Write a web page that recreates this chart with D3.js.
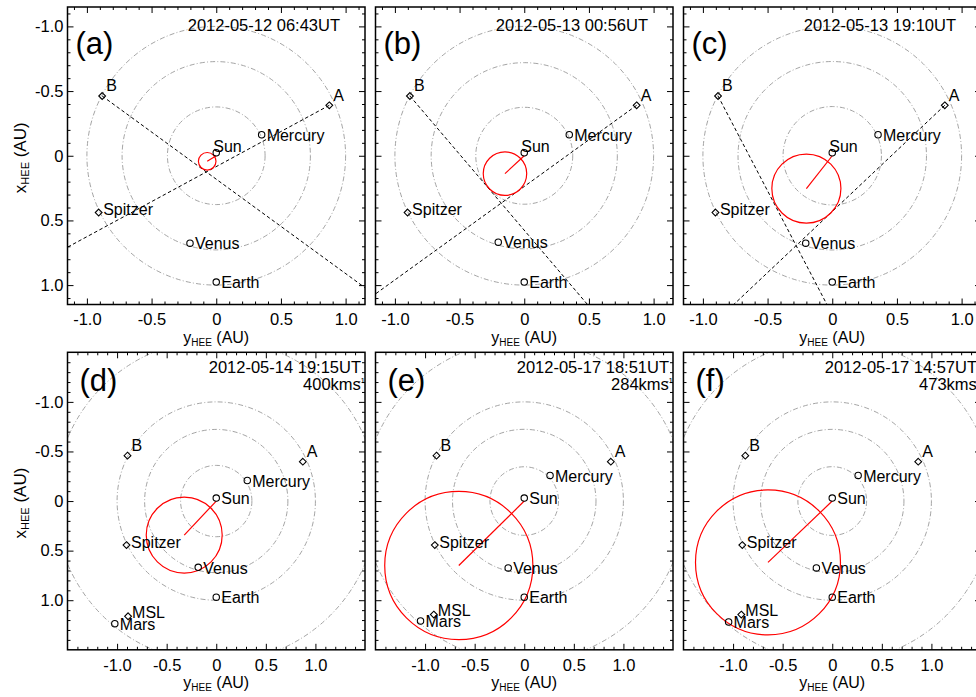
<!DOCTYPE html>
<html><head><meta charset="utf-8">
<script src="https://cdn.jsdelivr.net/npm/d3@7"></script>
<style>
body{margin:0;background:#fff}
svg{display:block}
text{font-family:"Liberation Sans",Arial,Helvetica,sans-serif;fill:#000}
</style>
</head><body>
<svg id="chart" width="976" height="697"></svg>
<script>
// ---------------- DATA ----------------
const panelLabels = ["(a)", "(b)", "(c)", "(d)", "(e)", "(f)"];
const timeLabels = ["2012-05-12 06:43UT", "2012-05-13 00:56UT", "2012-05-13 19:10UT",
                    "2012-05-14 19:15UT", "2012-05-17 18:51UT", "2012-05-17 14:57UT"];
const speedValues = [null, null, null, 400, 284, 473];           // km/s
const axisLimits = [1.15, 1.15, 1.15, 1.5, 1.5, 1.5];            // AU, symmetric range
const majorTicks = [-1.0, -0.5, 0, 0.5, 1.0];
const majorTickLabels = ["-1.0", "-0.5", "0", "0.5", "1.0"];
const minorStep = 0.1;

// positions per panel as [yHEE, xHEE] in AU
const sunPos     = [[0,0],[0,0],[0,0],[0,0],[0,0],[0,0]];
const mercuryPos = [[0.351,-0.139],[0.348,-0.139],[0.354,-0.139],[0.313,-0.177],[0.260,-0.228],[0.261,-0.228]];
const venusPos   = [[-0.203,0.699],[-0.201,0.691],[-0.205,0.699],[-0.182,0.699],[-0.162,0.705],[-0.160,0.705]];
const earthPos   = [[0,1.0],[0,1.0],[0,1.0],[0,1.0],[0,1.0],[0,1.0]];
const marsPos    = [null, null, null, [-1.023,1.267],[-1.046,1.240],[-1.045,1.250]];
const stereoAPos = [[0.874,-0.390],[0.869,-0.390],[0.870,-0.390],[0.873,-0.397],[0.873,-0.397],[0.867,-0.397]];
const stereoBPos = [[-0.882,-0.462],[-0.884,-0.462],[-0.883,-0.462],[-0.895,-0.458],[-0.885,-0.458],[-0.877,-0.458]];
const spitzerPos = [[-0.909,0.439],[-0.902,0.439],[-0.903,0.439],[-0.905,0.444],[-0.902,0.444],[-0.907,0.444]];
const mslPos     = [null, null, null, [-0.889,1.162],[-0.912,1.145],[-0.917,1.145]];

// CME circle (centre [yHEE,xHEE], radius AU)
const cmeCenter = [[-0.070,0.043],[-0.149,0.138],[-0.200,0.254],[-0.323,0.343],[-0.660,0.650],[-0.648,0.619]];
const cmeRadius = [0.068, 0.168, 0.267, 0.383, 0.747, 0.731];

// lines of sight from STEREO-A / B (a point further along each line)
const losAThrough = [[-1.148,0.706],[-1.129,1.053],[-0.754,1.143], null, null, null];
const losBThrough = [[1.106,0.988],[0.483,1.143],[-0.045,1.143], null, null, null];

const circleBodies = [
  {name:"Sun", pos:sunPos, orbit:false},
  {name:"Mercury", pos:mercuryPos, orbit:true},
  {name:"Venus", pos:venusPos, orbit:true},
  {name:"Earth", pos:earthPos, orbit:true},
  {name:"Mars", pos:marsPos, orbit:true}
];
const diamondBodies = [
  {name:"A", pos:stereoAPos},
  {name:"B", pos:stereoBPos},
  {name:"Spitzer", pos:spitzerPos},
  {name:"MSL", pos:mslPos}
];

// ---------------- LAYOUT / STYLE ----------------
const size = 297.5;
const colLefts = [67.5, 375.5, 683.5];
const rowTops = [7, 352.3];
const rowStyle = [
  {letterDx: 8, letterDy: 46.5, timeDx: -25, timeDy: 24},
  {letterDx: 12, letterDy: 39, timeDx: -4, timeDy: 21, speedDx: 0, speedDy: 38}
];
const diamondLabelOffset = {A:[4,-4.5], B:[4,-4.5], Spitzer:[4.5,2.5], MSL:[4,1.5]};
const glyphLift = 3;
const orbitColor = "#9a9a9a";
const fontMain = 16;
const fontTick = 16.5;

const svg = d3.select("#chart");

panelLabels.forEach((lab, i) => {
  const col = i % 3, row = Math.floor(i / 3);
  const L = colLefts[col], T = rowTops[row], R = axisLimits[i];
  const x = d3.scaleLinear().domain([-R, R]).range([L, L + size]);
  const y = d3.scaleLinear().domain([-R, R]).range([T, T + size]);
  const px = p => x(p[0]), py = p => y(p[1]);
  const g = svg.append("g");
  const clipId = "clip" + i;
  g.append("clipPath").attr("id", clipId).append("rect")
    .attr("x", L).attr("y", T).attr("width", size).attr("height", size);
  const plot = g.append("g").attr("clip-path", `url(#${clipId})`);

  // orbit circles (radius = current heliocentric distance)
  circleBodies.filter(b => b.orbit && b.pos[i]).forEach(b => {
    const r = Math.hypot(b.pos[i][0], b.pos[i][1]);
    plot.append("circle")
      .attr("cx", x(0)).attr("cy", y(0)).attr("r", x(r) - x(0))
      .attr("fill", "none").attr("stroke", orbitColor).attr("stroke-width", 0.9)
      .attr("stroke-dasharray", "5,2.2,1,2.2");
  });

  // lines of sight
  [[stereoAPos, losAThrough], [stereoBPos, losBThrough]].forEach(([sc, th]) => {
    if (!th[i]) return;
    const p0 = sc[i], p1 = th[i];
    const p2 = [p0[0] + 3 * (p1[0] - p0[0]), p0[1] + 3 * (p1[1] - p0[1])];
    plot.append("line")
      .attr("x1", px(p0)).attr("y1", py(p0)).attr("x2", px(p2)).attr("y2", py(p2))
      .attr("stroke", "#000").attr("stroke-width", 1).attr("stroke-dasharray", "3.5,2.5");
  });

  // CME
  plot.append("line")
    .attr("x1", x(0)).attr("y1", y(0))
    .attr("x2", px(cmeCenter[i])).attr("y2", py(cmeCenter[i]))
    .attr("stroke", "#ff0000").attr("stroke-width", 1.2);
  plot.append("circle")
    .attr("cx", px(cmeCenter[i])).attr("cy", py(cmeCenter[i]))
    .attr("r", x(cmeRadius[i]) - x(0))
    .attr("fill", "none").attr("stroke", "#ff0000").attr("stroke-width", 1.2);

  // circle glyph bodies
  circleBodies.filter(b => b.pos[i]).forEach(b => {
    const cx = px(b.pos[i]), cy = py(b.pos[i]);
    plot.append("circle").attr("cx", cx).attr("cy", cy - glyphLift).attr("r", 3.2)
      .attr("fill", "none").attr("stroke", "#000").attr("stroke-width", 1.1);
    let tx = cx + 5, ty = cy + 3.2;
    if (b.name === "Sun" && row === 0) { tx = cx - 3; ty = cy - 4; }
    plot.append("text").attr("x", tx).attr("y", ty).attr("font-size", fontMain).text(b.name);
  });

  // diamond bodies
  diamondBodies.filter(b => b.pos[i]).forEach(b => {
    const cx = px(b.pos[i]), cy = py(b.pos[i]), h = 3.4;
    plot.append("path")
      .attr("d", `M${cx},${cy - h}L${cx + h},${cy}L${cx},${cy + h}L${cx - h},${cy}Z`)
      .attr("fill", "none").attr("stroke", "#000").attr("stroke-width", 1.1);
    const o = diamondLabelOffset[b.name];
    plot.append("text").attr("x", cx + o[0]).attr("y", cy + o[1]).attr("font-size", fontMain).text(b.name);
  });

  // axes
  const minor = d3.range(-20, 21).map(k => +(k * minorStep).toFixed(2))
    .filter(v => Math.abs(v) < R - 1e-6 && !majorTicks.some(m => Math.abs(m - v) < 1e-6));
  const styleAxis = sel => {
    sel.select(".domain").remove();
    sel.selectAll(".tick line").attr("stroke", "#000").attr("stroke-width", 1);
    sel.selectAll("text").attr("font-size", fontTick)
      .attr("font-family", '"Liberation Sans",Arial,Helvetica,sans-serif').attr("fill", "#000");
    sel.attr("font-family", null).attr("font-size", null);
  };
  const addAxis = (gen, tr, labels) => {
    g.append("g").attr("transform", tr)
      .call(gen.tickValues(majorTicks).tickSize(-6)
        .tickFormat(labels ? (d, j) => majorTickLabels[j] : () => ""))
      .call(styleAxis);
  };
  const addMinor = (gen, tr) => {
    g.append("g").attr("transform", tr)
      .call(gen.tickValues(minor).tickSize(-3).tickFormat(() => ""))
      .call(styleAxis);
  };
  addAxis(d3.axisBottom(x).tickPadding(9), `translate(0,${T + size})`, true);
  addMinor(d3.axisBottom(x), `translate(0,${T + size})`);
  addAxis(d3.axisTop(x), `translate(0,${T})`, false);
  addMinor(d3.axisTop(x), `translate(0,${T})`);
  addAxis(d3.axisLeft(y).tickPadding(4), `translate(${L},0)`, col === 0);
  addMinor(d3.axisLeft(y), `translate(${L},0)`);
  addAxis(d3.axisRight(y), `translate(${L + size},0)`, false);
  addMinor(d3.axisRight(y), `translate(${L + size},0)`);

  // frame
  g.append("rect").attr("x", L).attr("y", T).attr("width", size).attr("height", size)
    .attr("fill", "none").attr("stroke", "#000").attr("stroke-width", 1.5);

  // axis titles
  const xt = g.append("text").attr("x", L + size / 2).attr("y", T + size + 38)
    .attr("text-anchor", "middle").attr("font-size", fontMain);
  xt.append("tspan").text("y");
  xt.append("tspan").attr("font-size", 10).attr("dy", 3).text("HEE");
  xt.append("tspan").attr("dy", -3).text(" (AU)");
  if (col === 0) {
    const cy = T + size / 2 + 2;
    const yt = g.append("text").attr("transform", `translate(26,${cy}) rotate(-90)`)
      .attr("text-anchor", "middle").attr("font-size", fontMain + 1);
    yt.append("tspan").text("x");
    yt.append("tspan").attr("font-size", 11).attr("dy", 3).text("HEE");
    yt.append("tspan").attr("dy", -3).text(" (AU)");
  }

  // panel texts
  const rs = rowStyle[row];
  g.append("text").attr("x", L + rs.letterDx).attr("y", T + rs.letterDy)
    .attr("font-size", 31).text(lab);
  g.append("text").attr("x", L + size + rs.timeDx).attr("y", T + rs.timeDy)
    .attr("text-anchor", "end").attr("font-size", fontMain + 0.5).text(timeLabels[i]);
  if (speedValues[i] != null) {
    const st = g.append("text").attr("x", L + size + rs.speedDx).attr("y", T + rs.speedDy)
      .attr("text-anchor", "end").attr("font-size", fontMain + 0.5);
    st.append("tspan").text(speedValues[i] + "kms");
    st.append("tspan").attr("font-size", 8).attr("dy", -7).attr("dx", -3).text("-1");
  }
});
</script>
</body></html>
